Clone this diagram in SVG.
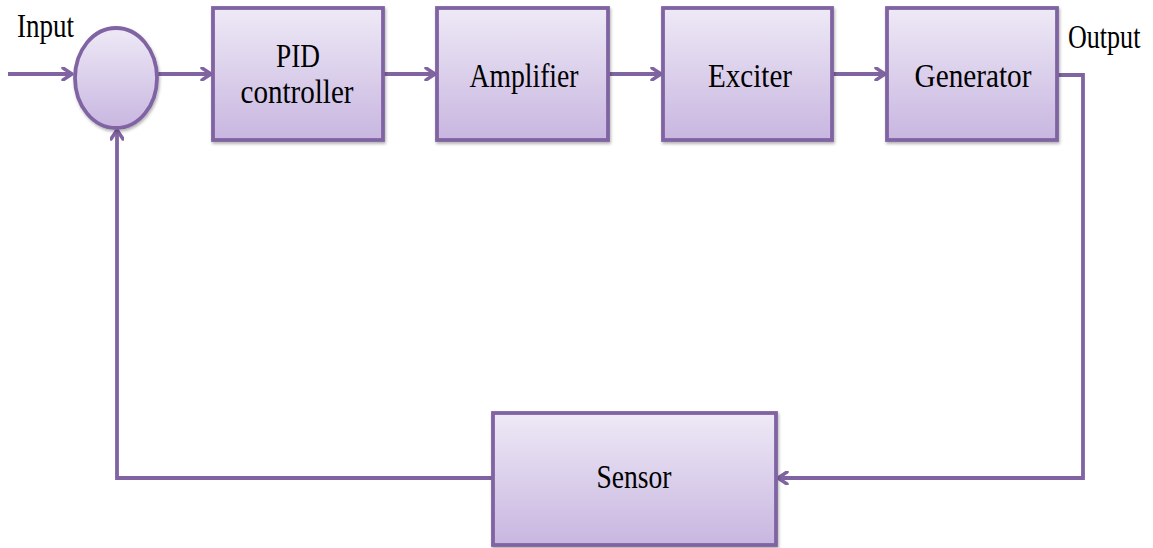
<svg xmlns="http://www.w3.org/2000/svg" width="1153" height="548" viewBox="0 0 1153 548">
<style>
.box{fill:url(#g);stroke:#8064A2;stroke-width:3.8;filter:url(#sh)}
.lbl{font-family:"Liberation Serif","Times New Roman",serif;font-size:33px;fill:#000;text-anchor:middle}
.txt{font-family:"Liberation Serif","Times New Roman",serif;font-size:33px;fill:#000}
.ln{fill:none;stroke:#8064A2;stroke-width:3.8}
</style>
<defs>
<linearGradient id="g" x1="0" y1="0" x2="0" y2="1">
<stop offset="0" stop-color="#EEE9F6"/>
<stop offset="1" stop-color="#C8B6E0"/>
</linearGradient>
<filter id="sh" x="-10%" y="-10%" width="125%" height="125%">
<feDropShadow dx="1" dy="2" stdDeviation="1.5" flood-color="#000" flood-opacity="0.3"/>
</filter>
<marker id="ar" markerWidth="14" markerHeight="14" refX="11" refY="7" orient="auto" markerUnits="userSpaceOnUse">
<path d="M2,1 L11,7 L2,13" fill="none" stroke="#8064A2" stroke-width="3.5" stroke-linecap="round" stroke-linejoin="round"/>
</marker>
</defs>
<g id="connectors">
<path class="ln" d="M8,74 H72" marker-end="url(#ar)"/>
<path class="ln" d="M158,74 H211" marker-end="url(#ar)"/>
<path class="ln" d="M384,74 H435" marker-end="url(#ar)"/>
<path class="ln" d="M609,74 H661" marker-end="url(#ar)"/>
<path class="ln" d="M833,74 H885" marker-end="url(#ar)"/>
<path class="ln" d="M1058,75 H1083 V478 H778" marker-end="url(#ar)"/>
<path class="ln" d="M492,478 H117 V130" marker-end="url(#ar)"/>
</g>
<g id="sum"><ellipse class="box" cx="116" cy="78" rx="41" ry="50"/></g>
<g id="pid"><rect class="box" x="213" y="8" width="170" height="132"/><text class="lbl" x="298" y="67" textLength="44" lengthAdjust="spacingAndGlyphs">PID</text><text class="lbl" x="297" y="103" textLength="113" lengthAdjust="spacingAndGlyphs">controller</text></g>
<g id="amplifier"><rect class="box" x="437" y="8" width="171" height="132"/><text class="lbl" x="524" y="87" textLength="109" lengthAdjust="spacingAndGlyphs">Amplifier</text></g>
<g id="exciter"><rect class="box" x="663" y="8" width="169" height="132"/><text class="lbl" x="750" y="87" textLength="84" lengthAdjust="spacingAndGlyphs">Exciter</text></g>
<g id="generator"><rect class="box" x="887" y="8" width="170" height="132"/><text class="lbl" x="973" y="87" textLength="117" lengthAdjust="spacingAndGlyphs">Generator</text></g>
<g id="sensor"><rect class="box" x="493" y="413" width="283" height="132"/><text class="lbl" x="634" y="488" textLength="75" lengthAdjust="spacingAndGlyphs">Sensor</text></g>
<text class="txt" x="17" y="37" textLength="57" lengthAdjust="spacingAndGlyphs">Input</text>
<text class="txt" transform="translate(1068,48) scale(0.79,1)" x="0" y="0">Output</text>
</svg>
